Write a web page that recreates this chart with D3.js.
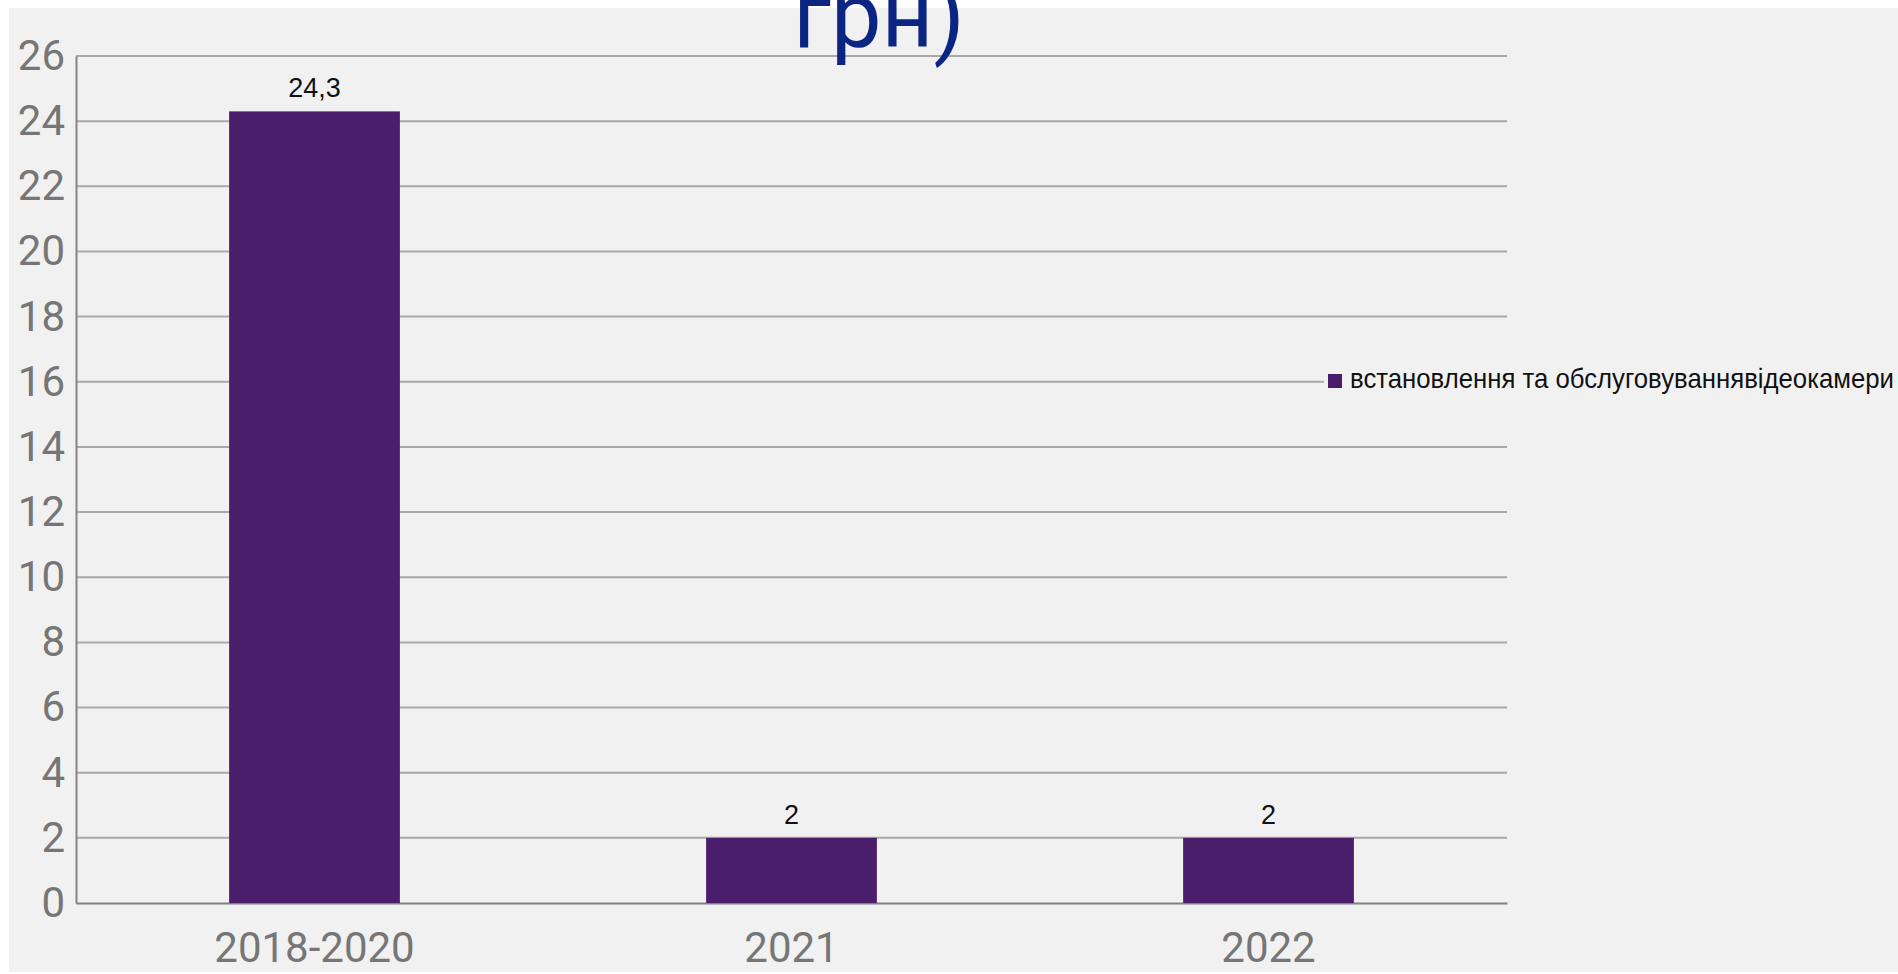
<!DOCTYPE html>
<html>
<head>
<meta charset="utf-8">
<script src="https://cdn.jsdelivr.net/npm/d3@7"></script>
<style>
  html, body { margin: 0; padding: 0; background: #ffffff; }
  svg { display: block; }
</style>
</head>
<body>
<script>
// Chart data
const categories = ["2018-2020", "2021", "2022"];
const values = [24.3, 2, 2];
const valueLabels = ["24,3", "2", "2"];
const yTicks = [0, 2, 4, 6, 8, 10, 12, 14, 16, 18, 20, 22, 24, 26];
const seriesName = "встановлення та обслуговуваннявідеокамери";
const titleTail = "грн)";

const W = 1898, H = 974;
const plot = { left: 76, right: 1507, top: 56, bottom: 903 };

const svg = d3.select("body").append("svg")
  .attr("width", W).attr("height", H);

// panel background
svg.append("rect")
  .attr("x", 9).attr("y", 8)
  .attr("width", W - 9).attr("height", 964)
  .attr("fill", "#f1f1f1");

const x = d3.scaleBand()
  .domain(categories)
  .range([plot.left, plot.right])
  .paddingInner(0.642)
  .paddingOuter(0.321);

const y = d3.scaleLinear()
  .domain([0, 26])
  .range([plot.bottom, plot.top]);

// horizontal gridlines
svg.append("g")
  .selectAll("line")
  .data(yTicks.filter(d => d > 0))
  .join("line")
  .attr("x1", plot.left).attr("x2", plot.right)
  .attr("y1", d => y(d)).attr("y2", d => y(d))
  .attr("stroke", "#a9a9a9")
  .attr("stroke-width", 2);

// y axis
const yAxis = svg.append("g")
  .attr("transform", `translate(${plot.left},0)`)
  .call(d3.axisLeft(y).tickValues(yTicks).tickSize(0).tickPadding(11));
yAxis.select(".domain").attr("stroke", "#858585").attr("stroke-width", 2);
yAxis.selectAll("text")
  .attr("fill", "#767676")
  .style("font-family", "Roboto, sans-serif")
  .style("font-size", "42px");

// x axis
const xAxis = svg.append("g")
  .attr("transform", `translate(0,${plot.bottom})`)
  .call(d3.axisBottom(x).tickSize(0).tickPadding(29));
xAxis.select(".domain").attr("stroke", "#808080").attr("stroke-width", 2);
xAxis.selectAll("text")
  .attr("fill", "#767676")
  .style("font-family", "Roboto, sans-serif")
  .style("font-size", "42px");

// bars
const data = categories.map((c, i) => ({ c, v: values[i], label: valueLabels[i] }));
svg.append("g")
  .selectAll("rect")
  .data(data)
  .join("rect")
  .attr("x", d => x(d.c))
  .attr("y", d => y(d.v))
  .attr("width", x.bandwidth())
  .attr("height", d => y(0) - y(d.v))
  .attr("fill", "#4b1e6b");

// value labels
svg.append("g")
  .selectAll("text")
  .data(data)
  .join("text")
  .attr("x", d => x(d.c) + x.bandwidth() / 2)
  .attr("y", d => y(d.v) - 14)
  .attr("text-anchor", "middle")
  .attr("fill", "#111111")
  .style("font-family", "'Liberation Sans', Arial, sans-serif")
  .style("font-size", "27px")
  .text(d => d.label);

// legend
const legend = svg.append("g");
legend.append("rect")
  .attr("x", 1324).attr("y", 366)
  .attr("width", 574).attr("height", 30)
  .attr("fill", "#f1f1f1");
legend.append("rect")
  .attr("x", 1328).attr("y", 374)
  .attr("width", 14).attr("height", 14)
  .attr("fill", "#4b1e6b");
legend.append("text")
  .attr("x", 1350).attr("y", 388)
  .attr("fill", "#111111")
  .attr("textLength", 544)
  .attr("lengthAdjust", "spacingAndGlyphs")
  .style("font-family", "'Liberation Sans', Arial, sans-serif")
  .style("font-size", "28px")
  .text(seriesName);

// title (last line)
svg.append("text")
  .attr("x", 879).attr("y", 47)
  .attr("text-anchor", "middle")
  .attr("fill", "#0a2582")
  .style("font-family", "Roboto, sans-serif")
  .style("font-size", "90px")
  .text(titleTail);
</script>
</body>
</html>
